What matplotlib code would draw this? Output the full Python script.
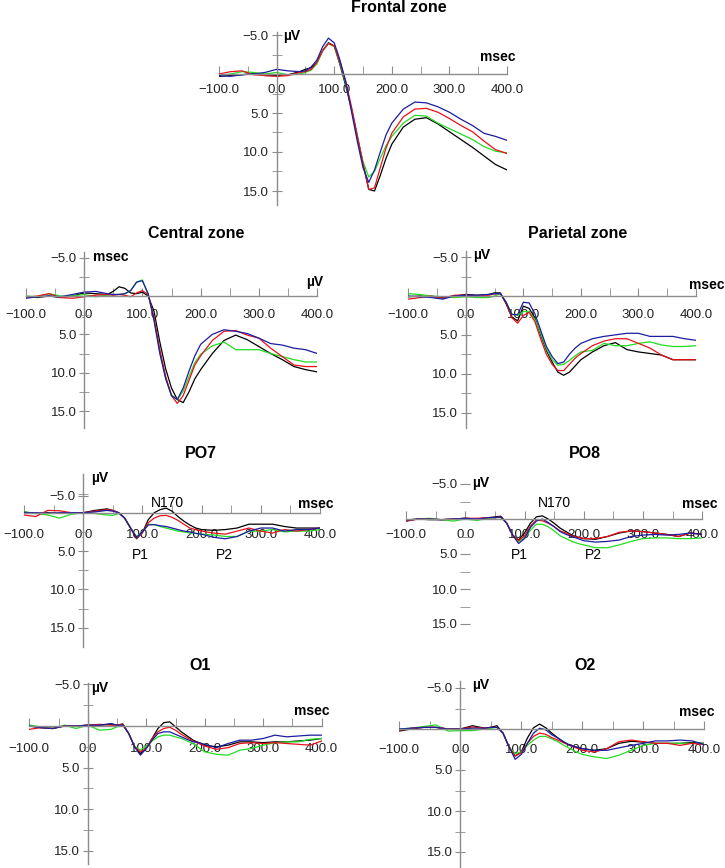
import numpy as np
import matplotlib
matplotlib.use("Agg")
import matplotlib.pyplot as plt

plt.rcParams['font.family'] = ['Liberation Sans', 'DejaVu Sans']

# time points (msec)
T = [-100, -80, -60, -40, -20, 0, 20, 40, 50, 60, 70, 80, 90, 100, 110, 120, 130, 140, 150,
     160, 170, 180, 190, 200, 220, 240, 260, 280, 300, 320, 340, 360, 380, 400]

# amplitudes (µV), positive down
frontal_blue = [0.2, 0.3, 0.1, 0.0, -0.2, -0.6, -0.4, -0.3, -0.4, -0.9, -1.8, -3.5, -4.6, -4.0, -1.8, 1.0, 4.8, 8.6, 12.0, 13.9, 12.3, 10.0, 7.8, 6.3, 4.5, 3.6, 3.7, 4.2, 4.9, 5.8, 6.6, 7.6, 8.0, 8.5]
frontal_red = [0.0, -0.3, -0.4, 0.1, 0.2, 0.3, 0.2, -0.2, -0.3, -0.6, -1.5, -3.0, -3.9, -3.6, -1.5, 0.9, 4.2, 7.8, 11.5, 14.8, 14.6, 12.0, 9.5, 7.6, 5.5, 4.5, 4.4, 4.9, 5.7, 6.6, 7.4, 8.6, 9.7, 10.2]
frontal_green = [0.2, 0.0, -0.3, -0.2, 0.0, -0.2, 0.1, 0.0, -0.2, -0.5, -1.3, -3.0, -3.9, -3.5, -1.4, 1.2, 4.5, 8.0, 11.2, 13.2, 12.5, 10.8, 9.2, 8.0, 6.3, 5.3, 5.4, 6.3, 7.0, 7.7, 8.4, 9.3, 9.9, 10.1]
frontal_black = [0.3, 0.2, 0.1, -0.1, 0.2, 0.2, 0.1, -0.3, -0.6, -0.8, -1.5, -3.0, -4.0, -3.6, -1.2, 1.5, 4.5, 8.0, 11.5, 14.8, 15.0, 13.0, 10.8, 9.0, 6.8, 5.8, 5.6, 6.4, 7.4, 8.4, 9.4, 10.5, 11.6, 12.3]

central_blue = [0.3, 0.1, 0.0, 0.1, -0.2, -0.5, -0.6, -0.3, -0.2, -0.2, -0.3, -0.7, -1.8, -2.0, -0.3, 3.2, 7.5, 10.8, 13.0, 13.5, 12.0, 9.8, 7.8, 6.3, 5.0, 4.4, 4.6, 4.9, 5.5, 6.2, 6.4, 6.8, 7.0, 7.5]
central_red = [0.2, 0.0, -0.3, 0.2, 0.3, 0.1, -0.1, -0.2, -0.1, -0.2, -0.1, 0.1, -0.4, -0.7, -0.2, 2.8, 7.0, 10.5, 13.0, 14.0, 13.0, 11.0, 9.0, 7.8, 5.8, 4.6, 4.5, 5.1, 5.5, 6.8, 7.9, 9.0, 9.2, 9.2]
central_green = [0.0, 0.1, -0.3, 0.0, 0.0, -0.2, 0.1, -0.1, -0.2, -0.2, -0.3, -0.7, -1.8, -2.1, -0.2, 3.0, 7.3, 10.6, 12.9, 13.5, 12.4, 10.5, 8.7, 7.6, 6.5, 6.0, 7.0, 7.0, 7.0, 7.5, 7.9, 8.3, 8.6, 8.6]
central_black = [0.1, 0.2, 0.0, 0.2, 0.0, -0.4, -0.3, -0.2, -0.6, -1.2, -1.0, -0.4, -0.3, -0.5, 0.0, 2.0, 6.0, 9.5, 12.0, 13.5, 13.9, 12.5, 10.8, 9.6, 7.5, 5.8, 5.1, 5.7, 6.6, 7.5, 8.3, 9.2, 9.6, 9.9]

parietal_blue = [0.0, 0.1, 0.2, 0.4, 0.0, -0.1, -0.1, -0.2, -0.3, -0.3, 0.8, 2.4, 2.4, 0.8, 0.9, 2.3, 4.4, 6.5, 7.8, 8.7, 8.5, 7.5, 6.7, 6.1, 5.5, 5.2, 5.0, 4.8, 4.8, 5.2, 5.2, 5.2, 5.5, 5.7]
parietal_red = [0.4, 0.2, 0.0, 0.3, -0.1, -0.1, 0.0, -0.1, -0.3, -0.3, 0.9, 2.8, 3.5, 2.5, 2.1, 3.3, 5.5, 7.5, 8.8, 9.6, 9.6, 8.8, 8.0, 7.4, 6.4, 5.8, 5.5, 5.5, 6.1, 6.7, 7.6, 8.2, 8.2, 8.2]
parietal_green = [-0.3, -0.2, 0.0, 0.1, 0.2, 0.1, 0.2, 0.2, 0.0, -0.3, 0.8, 2.3, 2.5, 2.0, 2.0, 3.0, 4.8, 6.8, 8.2, 8.9, 8.8, 8.3, 7.7, 7.2, 7.0, 6.1, 6.4, 6.4, 6.1, 5.9, 6.3, 6.5, 6.5, 6.4]
parietal_black = [0.1, 0.0, 0.1, 0.2, 0.0, -0.2, -0.1, -0.2, -0.4, -0.4, 1.0, 2.7, 3.2, 1.3, 1.6, 2.8, 5.0, 7.0, 8.5, 9.8, 10.2, 9.8, 9.0, 8.2, 7.2, 6.4, 6.0, 6.9, 7.2, 7.4, 7.6, 8.2, 8.2, 8.2]

po7_blue = [0.0, 0.0, 0.1, 0.0, 0.0, 0.0, -0.1, -0.3, -0.2, 0.0, 0.7, 2.0, 3.2, 2.5, 1.6, 1.55, 1.7, 1.8, 2.0, 2.2, 2.4, 2.5, 2.7, 2.8, 3.2, 3.4, 3.1, 2.4, 2.0, 2.0, 2.4, 2.2, 2.2, 2.0]
po7_red = [0.3, 0.5, -0.3, -0.25, 0.0, 0.0, -0.2, -0.4, -0.3, 0.0, 0.7, 2.0, 3.3, 2.6, 1.3, 0.7, 0.4, 0.35, 0.6, 1.0, 1.5, 2.0, 2.2, 2.4, 2.65, 2.8, 2.4, 2.0, 2.4, 2.65, 2.2, 2.4, 2.2, 2.0]
po7_green = [-0.1, 0.1, 0.3, 0.7, 0.2, 0.0, 0.1, 0.3, 0.35, 0.1, 0.7, 2.0, 3.1, 2.5, 1.5, 1.55, 1.8, 2.0, 2.2, 2.4, 2.5, 2.65, 2.7, 2.8, 2.9, 3.1, 3.1, 2.4, 2.4, 2.2, 2.5, 2.4, 2.4, 2.2]
po7_black = [-0.1, 0.1, 0.0, 0.1, 0.0, 0.0, -0.3, -0.5, -0.3, 0.0, 0.7, 2.0, 3.4, 2.6, 0.9, 0.0, -0.4, -0.6, -0.2, 0.5, 1.1, 1.6, 2.0, 2.2, 2.3, 2.2, 2.0, 1.5, 1.5, 1.5, 1.8, 2.0, 2.0, 2.0]

po8_blue = [0.15, 0.0, 0.0, 0.1, 0.0, -0.1, 0.0, -0.2, -0.2, -0.3, 0.6, 2.3, 3.5, 2.8, 1.2, 0.3, 0.0, 0.5, 1.1, 1.8, 2.2, 2.5, 2.8, 3.1, 3.3, 3.2, 3.0, 2.5, 2.3, 2.2, 2.3, 2.2, 2.0, 2.2]
po8_red = [0.3, 0.0, 0.0, 0.1, 0.0, -0.1, -0.1, -0.2, -0.2, -0.3, 0.6, 2.3, 3.1, 2.4, 1.0, 0.15, 0.25, 0.6, 1.1, 1.7, 2.0, 2.4, 2.6, 2.8, 2.8, 2.5, 1.9, 1.7, 1.8, 2.0, 2.2, 2.5, 2.0, 2.2]
po8_green = [0.15, 0.0, -0.1, 0.1, 0.3, 0.0, 0.2, -0.1, -0.2, -0.2, 0.6, 2.3, 3.2, 2.7, 1.6, 0.75, 0.75, 1.1, 1.7, 2.4, 2.8, 3.2, 3.5, 3.7, 4.1, 4.1, 3.7, 3.2, 2.8, 2.7, 2.7, 2.8, 2.8, 2.7]
po8_black = [0.3, 0.0, 0.1, 0.1, 0.0, -0.1, 0.0, -0.2, -0.3, -0.4, 0.6, 2.3, 3.0, 2.0, 0.6, -0.3, -0.45, 0.0, 0.6, 1.3, 1.8, 2.3, 2.6, 2.8, 2.9, 2.5, 2.0, 1.7, 1.8, 2.0, 2.2, 2.5, 2.0, 2.2]

o1_blue = [0.0, 0.2, 0.3, 0.0, 0.0, -0.1, -0.1, -0.3, -0.1, -0.1, 0.9, 2.5, 3.5, 2.7, 1.7, 0.9, 0.7, 0.7, 1.0, 1.3, 1.6, 1.9, 2.0, 2.2, 2.6, 2.1, 1.7, 1.7, 1.5, 1.1, 1.3, 1.2, 1.1, 1.1]
o1_red = [0.4, 0.2, 0.3, 0.0, 0.0, -0.1, -0.2, -0.1, -0.1, -0.2, 0.9, 2.5, 3.1, 2.7, 1.5, 0.7, 0.3, 0.15, 0.5, 1.0, 1.4, 1.8, 2.1, 2.4, 2.8, 2.6, 2.1, 2.0, 2.1, 2.0, 2.1, 2.2, 2.3, 1.8]
o1_green = [-0.1, 0.1, 0.3, -0.1, 0.3, -0.1, 0.5, 0.4, 0.1, -0.1, 0.9, 2.4, 2.9, 2.4, 1.8, 1.3, 1.1, 1.1, 1.3, 1.5, 1.8, 2.1, 2.6, 3.1, 3.4, 3.5, 2.9, 2.7, 2.3, 2.0, 1.9, 1.9, 1.6, 1.5]
o1_black = [0.0, 0.2, 0.3, 0.0, 0.0, -0.1, -0.1, -0.2, -0.1, -0.25, 0.9, 2.5, 3.3, 2.7, 1.5, 0.3, -0.4, -0.5, 0.1, 0.7, 1.2, 1.7, 2.0, 2.3, 2.5, 2.3, 1.9, 1.9, 2.0, 1.9, 1.9, 1.8, 1.7, 1.5]

o2_blue = [0.0, -0.1, -0.2, -0.2, 0.0, 0.0, -0.1, -0.1, -0.2, -0.2, 0.5, 2.2, 3.7, 3.1, 1.75, 0.5, -0.1, 0.1, 0.7, 1.1, 1.6, 2.0, 2.2, 2.4, 2.6, 2.6, 2.3, 2.0, 1.75, 1.45, 1.45, 1.35, 1.45, 1.9]
o2_red = [0.15, -0.1, -0.2, -0.2, 0.0, 0.0, -0.25, -0.1, -0.2, -0.2, 0.5, 2.2, 3.3, 2.9, 1.75, 0.9, 0.5, 0.65, 1.05, 1.35, 1.7, 2.0, 2.3, 2.6, 2.8, 2.4, 1.55, 1.35, 1.55, 1.75, 1.75, 2.0, 1.75, 1.9]
o2_green = [0.0, -0.1, -0.3, -0.5, 0.25, 0.2, 0.2, 0.0, -0.1, -0.2, 0.5, 2.2, 3.0, 2.8, 2.0, 1.35, 0.9, 0.9, 1.2, 1.55, 2.0, 2.4, 2.8, 3.1, 3.4, 3.6, 3.2, 2.6, 2.0, 1.75, 1.75, 1.75, 1.75, 1.75]
o2_black = [0.25, 0.0, -0.2, -0.2, 0.0, 0.0, -0.4, -0.1, -0.2, -0.4, 0.5, 2.2, 3.3, 2.8, 1.1, -0.15, -0.6, -0.15, 0.5, 1.1, 1.6, 2.0, 2.2, 2.4, 2.6, 2.4, 1.75, 1.5, 1.6, 1.75, 1.75, 1.75, 1.65, 1.75]

xticks = [-100, 0, 100, 200, 300, 400]
yticks = [-5, 5, 10, 15]
ytick_labels = ['\u22125.0', '5.0', '10.0', '15.0']

W, H = 725, 868
fig = plt.figure(figsize=(W / 100, H / 100), dpi=100)

AX_COL = '#8c8c8c'
COLS = {'black': '#000000', 'green': '#22dd22', 'red': '#e8101a', 'blue': '#1c1ca0'}


def ftext(x, y, s, **kw):
    fig.text(x / W, 1 - y / H, s, **kw)


def panel(curves, x0, x1, yz, ppu, ylo, yhi, xpad, show_spine=True, ytk=None):
    top = yz + ylo * ppu
    bot = yz + yhi * ppu
    ax = fig.add_axes([x0 / W, 1 - bot / H, (x1 - x0) / W, (bot - top) / H])
    ax.patch.set_visible(False)
    for name in ['black', 'green', 'red', 'blue']:
        ax.plot(T, curves[name], color=COLS[name], lw=0.9)
    ax.set_xlim(-100, 400)
    ax.set_ylim(yhi, ylo)
    ax.spines['top'].set_visible(False)
    ax.spines['right'].set_visible(False)
    ax.spines['left'].set_position(('data', 0))
    ax.spines['bottom'].set_position(('data', 0))
    for s in ['left', 'bottom']:
        ax.spines[s].set_color(AX_COL)
        ax.spines[s].set_linewidth(1.0)
    ax.spines['left'].set_visible(show_spine)
    ax.set_xticks(xticks)
    ax.set_xticklabels([('\u2212' if v < 0 else '') + '%.1f' % abs(v) for v in xticks])
    ax.set_xticks([-50, 50, 150, 250, 350], minor=True)
    ax.tick_params(axis='x', which='both', direction='in', length=6, color=AX_COL,
                   labelsize=9.5, pad=xpad, labelcolor='#222222')
    ax.set_yticks(ytk if ytk else yticks)
    ax.set_yticklabels(ytick_labels)
    ax.set_yticks([-2.5, 2.5, 7.5, 12.5], minor=True)
    ax.tick_params(axis='y', which='both', direction='inout', length=7, color=AX_COL,
                   labelsize=9.5, pad=2, labelcolor='#222222')
    return ax


tkw = dict(fontsize=11.5, fontweight='bold', ha='center', va='center')
lkw = dict(fontsize=10, fontweight='bold', va='center')

# Frontal
panel({'blue': frontal_blue, 'red': frontal_red, 'green': frontal_green, 'black': frontal_black},
      219, 507, 74, 7.8, -5.4, 16.8, 7)
ftext(399, 8, 'Frontal zone', **tkw)
ftext(283, 36, 'µV', ha='left', **lkw)
ftext(498, 57, 'msec', ha='center', **lkw)

# Central
panel({'blue': central_blue, 'red': central_red, 'green': central_green, 'black': central_black},
      25.7, 317.3, 296, 7.67, -5.8, 17.2, 9)
ftext(196, 234, 'Central zone', **tkw)
ftext(93, 257, 'msec', ha='left', **lkw)
ftext(315, 282, 'µV', ha='center', **lkw)

# Parietal
panel({'blue': parietal_blue, 'red': parietal_red, 'green': parietal_green, 'black': parietal_black},
      408.3, 696, 296, 7.77, -5.8, 17.0, 9)
ftext(578, 234, 'Parietal zone', **tkw)
ftext(473, 255, 'µV', ha='left', **lkw)
ftext(707, 285, 'msec', ha='center', **lkw)

# PO7
ax = panel({'blue': po7_blue, 'red': po7_red, 'green': po7_green, 'black': po7_black},
           24, 320, 512.7, 7.67, -5.1, 17.5, 12, ytk=[-2.2, 5, 10, 15])
ftext(201, 454, 'PO7', **tkw)
ftext(91, 478, 'µV', ha='left', **lkw)
ftext(316, 504, 'msec', ha='center', **lkw)
ax.text(142, -1.3, 'N170', fontsize=10, ha='center', va='center')
ax.text(96, 5.5, 'P1', fontsize=10, ha='center', va='center')
ax.text(238, 5.5, 'P2', fontsize=10, ha='center', va='center')

# PO8
ax = panel({'blue': po8_blue, 'red': po8_red, 'green': po8_green, 'black': po8_black},
           406, 702.3, 519, 7.0, -5.6, 17.0, 7, show_spine=False)
ftext(585, 454, 'PO8', **tkw)
ftext(472, 483, 'µV', ha='left', **lkw)
ftext(700, 504, 'msec', ha='center', **lkw)
ax.text(150, -2.3, 'N170', fontsize=10, ha='center', va='center')
ax.text(92, 5.1, 'P1', fontsize=10, ha='center', va='center')
ax.text(217, 5.1, 'P2', fontsize=10, ha='center', va='center')

# O1
panel({'blue': o1_blue, 'red': o1_red, 'green': o1_green, 'black': o1_black},
      29.3, 321.7, 726, 8.33, -5.2, 16.6, 12)
ftext(200, 665, 'O1', **tkw)
ftext(91, 688, 'µV', ha='left', **lkw)
ftext(312, 711, 'msec', ha='center', **lkw)

# O2
panel({'blue': o2_blue, 'red': o2_red, 'green': o2_green, 'black': o2_black},
      399.3, 704.3, 729, 8.2, -5.8, 16.8, 11)
ftext(585, 665, 'O2', **tkw)
ftext(472, 685, 'µV', ha='left', **lkw)
ftext(697, 712, 'msec', ha='center', **lkw)

fig.savefig('out.png', dpi=100)
